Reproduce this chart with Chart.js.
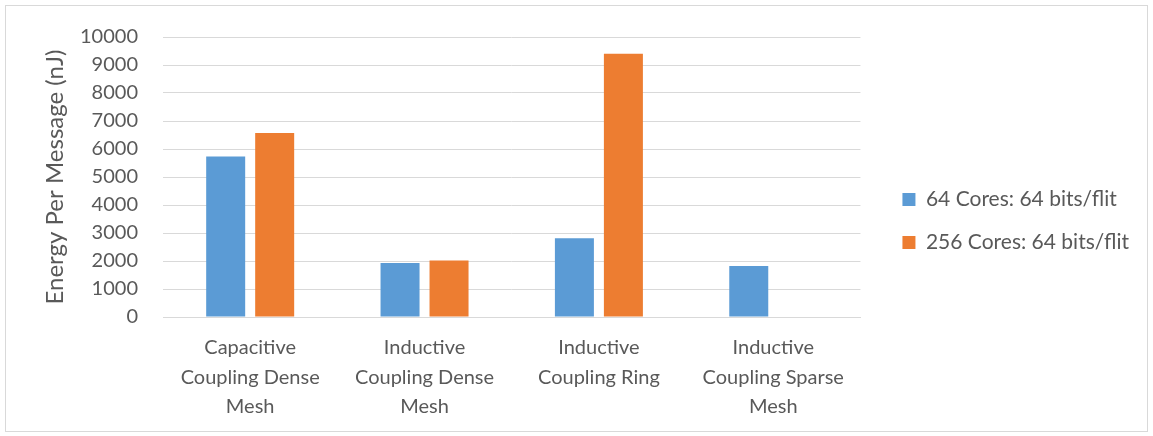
<!DOCTYPE html>
<html>
<head>
<meta charset="utf-8">
<script src="https://cdn.jsdelivr.net/npm/chart.js@4/dist/chart.umd.min.js"></script>
<style>
  body { margin: 0; background: #fff; }
  #wrap { position: relative; width: 1153px; height: 436px; }
  #frame { position: absolute; left: 5px; top: 5px; width: 1141px; height: 425px; border: 1px solid #d9d9d9; pointer-events: none; }
</style>
</head>
<body>
<div id="wrap">
  <canvas id="canvas" width="1153" height="436"></canvas>
  <div id="frame"></div>
</div>
<script>
// categories (multi-line, as wrapped under the axis)
const categories = [
  ['Capacitive', 'Coupling Dense', 'Mesh'],
  ['Inductive', 'Coupling Dense', 'Mesh'],
  ['Inductive', 'Coupling Ring'],
  ['Inductive', 'Coupling Sparse', 'Mesh']
];
const seriesNames = ['64 Cores: 64 bits/flit', '256 Cores: 64 bits/flit'];
const cores64 = [5730, 1925, 2810, 1820];
const cores256 = [6570, 2015, 9400, null];
const yTicks = { min: 0, max: 10000, step: 1000 };

const textColor = '#595959';
const gridColor = '#d9d9d9';

// push the legend items out to where Excel puts them
const legendGap = {
  id: 'legendGap',
  afterLayout(chart) {
    const lg = chart.legend;
    const w = lg.width;
    lg.left = chart.chartArea.right + 20;
    lg.right = lg.left + w;
    lg.top = 34;
    lg.bottom = 408;
    lg.height = lg.bottom - lg.top;
  }
};

const ctx = document.getElementById('canvas').getContext('2d');
const chart = new Chart(ctx, {
  type: 'bar',
  data: {
    labels: categories,
    datasets: [
      { label: seriesNames[0], data: cores64, backgroundColor: '#5b9bd5' },
      { label: seriesNames[1], data: cores256, backgroundColor: '#ed7d31' }
    ]
  },
  options: {
    responsive: false,
    animation: false,
    datasets: { bar: { categoryPercentage: 0.562, barPercentage: 0.796 } },
    layout: { padding: { left: 0, top: 34, right: 34, bottom: 0 } },
    plugins: {
      tooltip: { enabled: false },
      legend: {
        position: 'right',
        labels: {
          boxWidth: 13, boxHeight: 13, padding: 22,
          color: textColor,
          font: { family: 'Lato', size: 21 }
        }
      }
    },
    scales: {
      x: {
        grid: { display: false, drawTicks: false },
        border: { color: gridColor },
        ticks: {
          color: textColor, padding: 16, maxRotation: 0, autoSkip: false,
          font: { family: 'Lato', size: 20, lineHeight: 1.47 }
        },
        afterFit: (scale) => { scale.height = 119; }
      },
      y: {
        min: yTicks.min, max: yTicks.max,
        grid: { color: gridColor, drawTicks: false },
        border: { display: false },
        ticks: {
          stepSize: yTicks.step, color: textColor, padding: 25,
          font: { family: 'Lato', size: 20 },
          callback: (v) => String(v)
        },
        title: {
          display: true, text: 'Energy Per Message (nJ)', color: textColor,
          font: { family: 'Lato', size: 24 }, padding: { top: 41, bottom: 0 }
        },
        afterFit: (scale) => { scale.width = 163; }
      }
    }
  },
  plugins: [legendGap]
});
</script>
</body>
</html>
